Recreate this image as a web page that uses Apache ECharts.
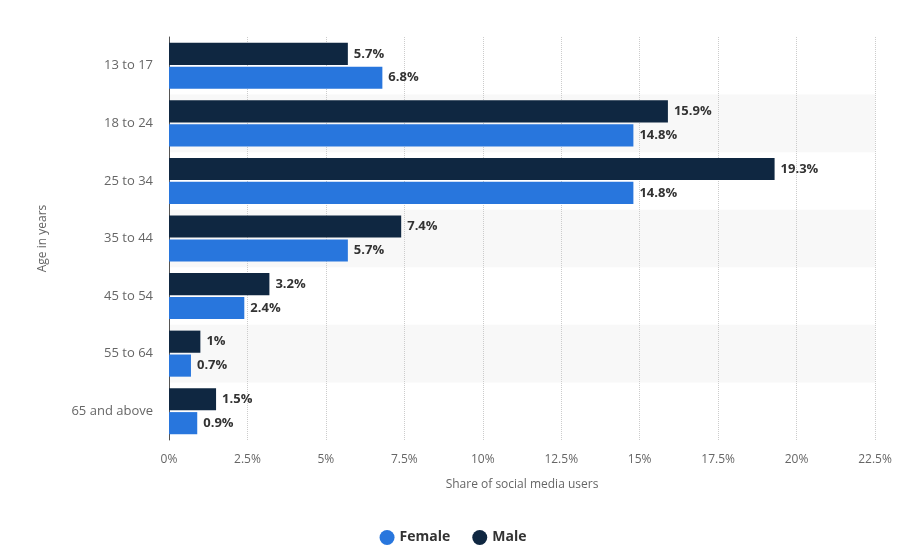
<!DOCTYPE html>
<html>
<head>
<meta charset="utf-8">
<script src="https://cdn.jsdelivr.net/npm/echarts@6/dist/echarts.min.js"></script>
<style>
  html, body { margin: 0; padding: 0; background: #fff; }
  #chart { width: 906px; height: 555px; }
</style>
</head>
<body>
<div id="chart"></div>
<script>
var ageGroups = ['13 to 17', '18 to 24', '25 to 34', '35 to 44', '45 to 54', '55 to 64', '65 and above'];
var femaleShare = [6.8, 14.8, 14.8, 5.7, 2.4, 0.7, 0.9];
var maleShare = [5.7, 15.9, 19.3, 7.4, 3.2, 1, 1.5];

var myChart = echarts.init(document.getElementById('chart'));

var labelStyle = {
    show: true,
    position: 'right',
    distance: 6,
    formatter: '{c}%',
    color: '#333',
    fontWeight: 'bold',
    fontSize: 13,
    fontFamily: 'Open Sans'
};

var option = {
    animation: false,
    textStyle: { fontFamily: 'Open Sans' },
    grid: {
        left: 169,
        right: 31,
        top: 37,
        bottom: 115
    },
    legend: {
        data: ['Female', 'Male'],
        bottom: 5,
        left: 'center',
        icon: 'circle',
        itemWidth: 15,
        itemHeight: 15,
        itemGap: 22,
        textStyle: { color: '#333', fontWeight: 'bold', fontSize: 14 }
    },
    xAxis: {
        type: 'value',
        min: 0,
        max: 22.5,
        interval: 2.5,
        name: 'Share of social media users',
        nameLocation: 'middle',
        nameGap: 39,
        nameTextStyle: { color: '#666', fontSize: 12 },
        axisLine: { show: false },
        axisTick: { show: false },
        axisLabel: { formatter: '{value}%', color: '#666', fontSize: 12, margin: 14 },
        splitLine: { show: true, lineStyle: { color: '#ccc', type: 'dotted' } }
    },
    yAxis: {
        type: 'category',
        data: ageGroups,
        inverse: true,
        name: 'Age in years',
        nameLocation: 'middle',
        nameGap: 120,
        nameRotate: 90,
        nameTextStyle: { color: '#666', fontSize: 12 },
        axisLine: { show: true, lineStyle: { color: '#555', width: 1 } },
        axisTick: { show: false },
        axisLabel: { color: '#666', fontSize: 13, margin: 16 },
        splitArea: { show: true, areaStyle: { color: ['rgba(255,255,255,0)', '#f8f8f8'] } }
    },
    series: [
        {
            name: 'Male',
            type: 'bar',
            data: maleShare,
            barGap: '8%',
            barCategoryGap: '20%',
            itemStyle: { color: '#0f2741' },
            label: labelStyle
        },
        {
            name: 'Female',
            type: 'bar',
            data: femaleShare,
            barGap: '8%',
            barCategoryGap: '20%',
            itemStyle: { color: '#2876dd' },
            label: labelStyle
        }
    ]
};
myChart.setOption(option);
</script>
</body>
</html>
